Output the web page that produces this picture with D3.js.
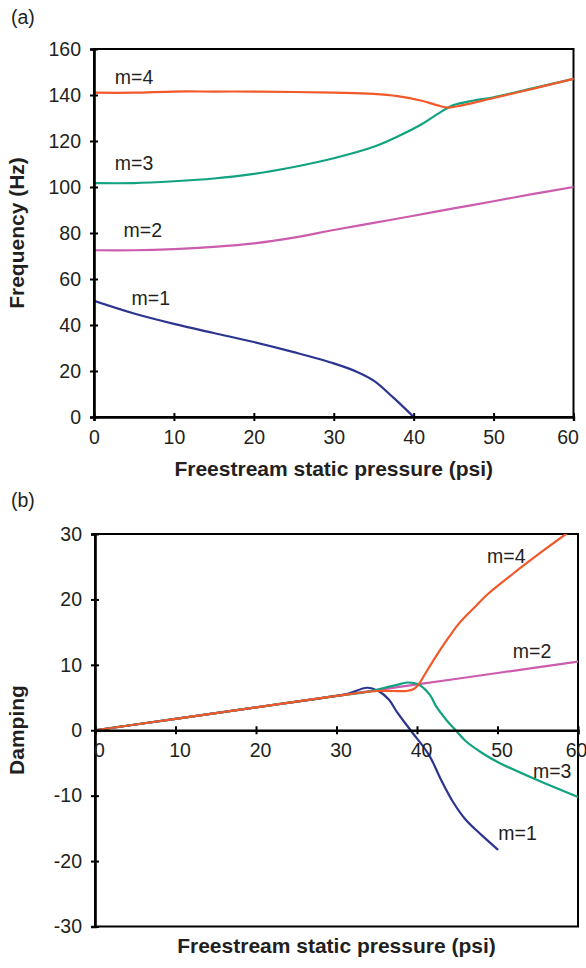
<!DOCTYPE html>
<html><head><meta charset="utf-8">
<script src="https://cdn.jsdelivr.net/npm/d3@7"></script>
<style>
body{margin:0;background:#fff;}
svg{display:block;font-family:"Liberation Sans",Arial,sans-serif;}
</style></head>
<body><svg id="c" width="586" height="968"></svg>
<script>
// ---- Panel (a): Frequency (Hz) ----
const xTicks = [0,10,20,30,40,50,60];
const freqTicks = [0,20,40,60,80,100,120,140,160];
const dampTicks = [-30,-20,-10,0,10,20,30];

const freqM1x = [0,5,10,15,20,25,30,33,35,37.5,40];
const freqM1y = [50.5,45,40.5,36.5,32.6,28.2,23.3,19.5,15.8,8.3,0];
const freqM2x = [0,5,10,15,20,25,30,35,40,45,50,55,60];
const freqM2y = [72.5,72.5,73,74,75.5,78,81.3,84.4,87.5,90.7,93.8,97,100];
const freqM3x = [0,5,10,15,20,25,30,35,38,41,43,45,47.4,50,55,60];
const freqM3y = [101.7,101.7,102.5,103.7,105.7,108.7,112.5,117.5,122,127.3,131.8,135.6,137.5,139,143,147];
const freqM4x = [0,5,10,15,20,25,30,35,38,41,43,44.3,46,50,55,60];
const freqM4y = [141,141,141.5,141.5,141.5,141.3,141,140.5,139.5,137.5,135.5,134.5,135.5,138.7,142.8,147];

// ---- Panel (b): Damping ----
const dampM1x = [0,10,20,30,31.5,33.8,35.2,36.5,37.5,39.2,41.5,43,44.5,46,48,50];
const dampM1y = [0,1.75,3.5,5.25,5.6,6.5,6.0,4.7,2.8,0,-3.8,-7.6,-11,-13.6,-16,-18.2];
const dampM2x = [0,10,20,30,40,50,60];
const dampM2y = [0,1.75,3.5,5.25,7.0,8.75,10.5];
const dampM3x = [0,10,20,30,34,36,38,38.8,40.2,41.6,42.4,43.7,44.8,46,48,50,55,60];
const dampM3y = [0,1.75,3.5,5.25,5.9,6.5,7.1,7.3,7.0,5.4,3.6,1.5,0,-1.6,-3.4,-4.85,-7.65,-10.2];
const dampM4x = [0,10,20,30,35,37,38.7,39.6,40.2,41,42,43,44,45,46,47,48.6,52,55.3,58.5,60];
const dampM4y = [0,1.75,3.5,5.25,6.0,6.0,6.0,6.3,7.0,8.6,10.6,12.5,14.3,16.0,17.4,18.6,20.6,24,27.1,30,31.3];

const labelsA = [
  {t:"m=4", x:2.6, y:144.6},
  {t:"m=3", x:2.6, y:107.5},
  {t:"m=2", x:3.7, y:78.4},
  {t:"m=1", x:4.7, y:48.8}
];
const labelsB = [
  {t:"m=4", x:48.7, y:25.5},
  {t:"m=2", x:51.9, y:11.0},
  {t:"m=3", x:54.4, y:-7.25},
  {t:"m=1", x:50.1, y:-16.8}
];

const colors = {m1:"#2b3590", m2:"#cc5cad", m3:"#11a27f", m4:"#f1592a"};
const ink = "#231f20";

const svg = d3.select("#c");

function zip(xs, ys){ return xs.map((x,i)=>[x,ys[i]]); }

function panel(opts){
  const {x, y, left, right, top, bottom, yTicks, xLabelDx, xAxisAt, series, labels, ytitle, ylab, ytitleY, xtitleY, clipId} = opts;
  const g = svg.append("g");
  svg.append("clipPath").attr("id", clipId).append("rect")
    .attr("x", left).attr("y", top).attr("width", right-left).attr("height", bottom-top);
  g.append("rect").attr("x", left).attr("y", top).attr("width", right-left).attr("height", bottom-top)
    .attr("fill","none").attr("stroke","#000").attr("stroke-width",2);
  const line = d3.line().x(d=>x(d[0])).y(d=>y(d[1])).curve(d3.curveCatmullRom.alpha(0.5));
  const lg = g.append("g").attr("clip-path", `url(#${clipId})`);
  series.forEach(s=>{
    lg.append("path").attr("d", line(zip(s.x, s.y))).attr("fill","none")
      .attr("stroke", s.c).attr("stroke-width", 2.2).attr("stroke-linejoin","round").attr("stroke-linecap","round");
  });
  const fmt = d => String(d);
  const ya = g.append("g").attr("transform", `translate(${left},0)`)
    .call(d3.axisLeft(y).tickValues(yTicks).tickSize(4).tickPadding(9).tickFormat(fmt));
  ya.select(".domain").attr("stroke","#000").attr("stroke-width",2.6);
  ya.selectAll(".tick line").attr("x1",4).attr("x2",-4).attr("stroke","#000").attr("stroke-width",2);
  ya.selectAll(".tick text").attr("font-size",19.5).attr("fill",ink).attr("font-family","'Liberation Sans',Arial,sans-serif");
  const xa = g.append("g").attr("transform", `translate(0,${y(xAxisAt)})`)
    .call(d3.axisBottom(x).tickValues(xTicks).tickSize(4).tickPadding(9).tickFormat(fmt));
  xa.select(".domain").attr("stroke","#000").attr("stroke-width",2.4);
  xa.selectAll(".tick line").attr("y1",-4).attr("y2",4).attr("stroke","#000").attr("stroke-width",2);
  xa.selectAll(".tick text").attr("font-size",19.5).attr("fill",ink).attr("dx",d => d===60 ? xLabelDx-6 : xLabelDx)
    .attr("font-family","'Liberation Sans',Arial,sans-serif");
  labels.forEach(l=>{
    g.append("text").attr("x", x(l.x)).attr("y", y(l.y)).attr("font-size",19.5).attr("fill",ink).text(l.t);
  });
  g.append("text").attr("transform", `translate(24,${ytitleY}) rotate(-90)`).attr("text-anchor","middle")
    .attr("font-size",21).attr("font-weight","bold").attr("fill",ink).text(ytitle);
  g.append("text").attr("x", (left+right)/2).attr("y", xtitleY).attr("text-anchor","middle")
    .attr("font-size",21).attr("font-weight","bold").attr("fill",ink).text("Freestream static pressure (psi)");
  g.append("text").attr("x", 11).attr("y", ylab).attr("font-size",19.5).attr("fill",ink).text(opts.tag);
}

const xA = d3.scaleLinear().domain([0,60]).range([94,573.5]);
const yA = d3.scaleLinear().domain([0,160]).range([417,49]);
panel({x:xA, y:yA, left:94, right:573.5, top:49, bottom:417, yTicks:freqTicks, xLabelDx:0, xAxisAt:0,
  series:[{x:freqM1x,y:freqM1y,c:colors.m1},{x:freqM2x,y:freqM2y,c:colors.m2},{x:freqM3x,y:freqM3y,c:colors.m3},{x:freqM4x,y:freqM4y,c:colors.m4}],
  labels:labelsA, ytitle:"Frequency (Hz)", ytitleY:233, xtitleY:476, ylab:24, tag:"(a)", clipId:"clipA"});

const xB = d3.scaleLinear().domain([0,60]).range([95,578]);
const yB = d3.scaleLinear().domain([-30,30]).range([926.5,534]);
panel({x:xB, y:yB, left:95, right:578, top:534, bottom:926.5, yTicks:dampTicks, xLabelDx:4, xAxisAt:0,
  series:[{x:dampM2x,y:dampM2y,c:colors.m2},{x:dampM1x,y:dampM1y,c:colors.m1},{x:dampM3x,y:dampM3y,c:colors.m3},{x:dampM4x,y:dampM4y,c:colors.m4}],
  labels:labelsB, ytitle:"Damping", ytitleY:730, xtitleY:953, ylab:507, tag:"(b)", clipId:"clipB"});
</script></body></html>
